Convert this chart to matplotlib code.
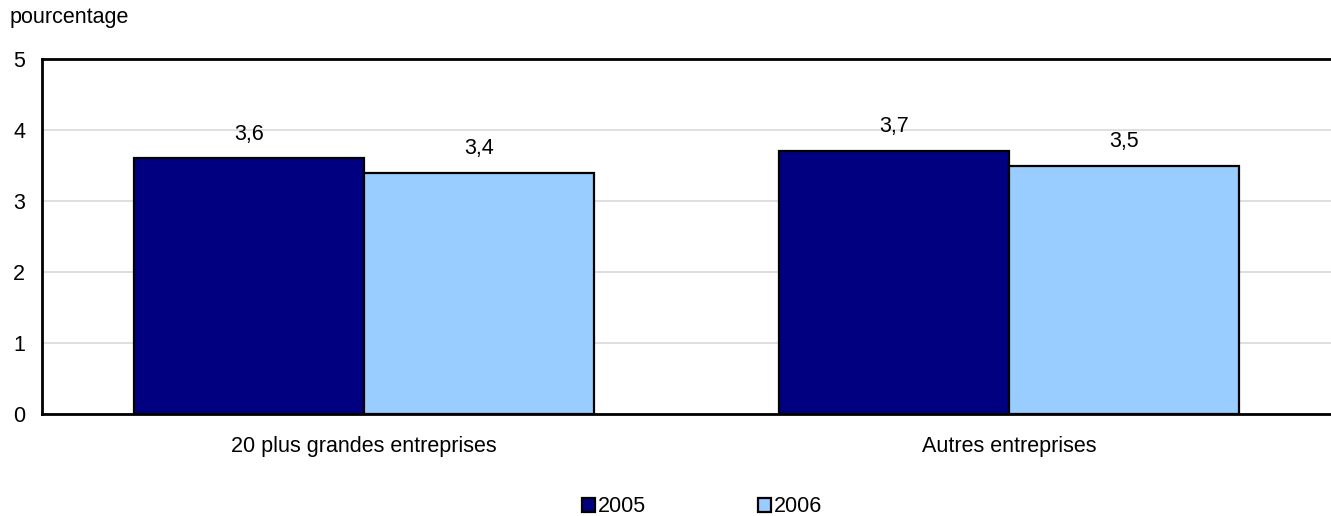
import matplotlib
matplotlib.use("Agg")
import matplotlib.pyplot as plt
import numpy as np

categories = ["20 plus grandes entreprises", "Autres entreprises"]
series_names = ["2005", "2006"]
values_2005 = [3.6, 3.7]
values_2006 = [3.4, 3.5]
yticks = [0, 1, 2, 3, 4, 5]

plt.rcParams['font.family'] = ['Liberation Sans', 'DejaVu Sans']
FS = 15.5

W, H = 1331, 516
fig = plt.figure(figsize=(W/100, H/100), dpi=100)
ax = fig.add_axes([42/W, 1-414/H, (1331-42)/W, (414-59)/H])

x = np.arange(len(categories))
bw = 0.357
colors = ["#000080", "#99CCFF"]
for i, (vals, name, c) in enumerate(zip([values_2005, values_2006], series_names, colors)):
    pos = x + (i - 0.5) * bw
    bars = ax.bar(pos, vals, bw, color=c, edgecolor="black", linewidth=1.6, label=name, zorder=3)
    for b, v in zip(bars, vals):
        ax.annotate(f"{v:.1f}".replace(".", ","), (b.get_x() + b.get_width()/2, v),
                    xytext=(0, 10), textcoords="offset points", ha="center", va="bottom",
                    fontsize=FS)

ax.set_xlim(-0.5, 1.5)
ax.set_ylim(0, 5)
ax.set_yticks(yticks)
ax.set_yticklabels([str(t) for t in yticks], fontsize=FS)
ax.set_xticks(x)
ax.set_xticklabels(categories, fontsize=FS)
ax.tick_params(axis="both", length=0)
ax.tick_params(axis="y", pad=12)
ax.tick_params(axis="x", pad=16)
ax.yaxis.grid(True, color="#d9d9d9", linewidth=1.2, zorder=0)
ax.set_axisbelow(True)
for s in ["left", "bottom", "top"]:
    ax.spines[s].set_linewidth(2)
    ax.spines[s].set_color("black")
ax.spines["right"].set_visible(False)

fig.text(10/W, 1-18/H, "pourcentage", fontsize=FS, ha="left", va="center")

leg = fig.legend(loc="center", bbox_to_anchor=(702/W, 1-507/H), ncol=2, frameon=False,
                 fontsize=FS, handlelength=0.6, handleheight=0.6, handletextpad=0.15,
                 columnspacing=5.2)
for h in leg.legend_handles:
    h.set_linewidth(1.6)

fig.savefig("out.png", dpi=100)
